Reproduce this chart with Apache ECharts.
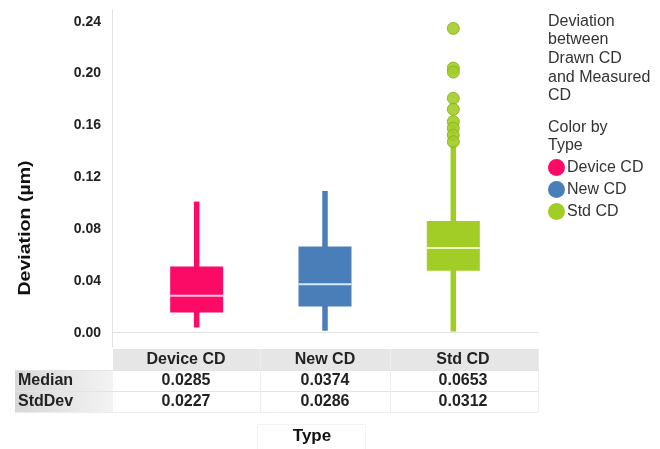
<!DOCTYPE html>
<html>
<head>
<meta charset="utf-8">
<script src="https://cdn.jsdelivr.net/npm/echarts@6/dist/echarts.min.js"></script>
<style>
  html, body { margin: 0; padding: 0; background: #ffffff; }
  #chart { width: 660px; height: 449px; }
</style>
</head>
<body>
<div id="chart"></div>
<script>
// Box-plot statistics per type (µm)
const categories  = ['Device CD', 'New CD', 'Std CD'];
const positions   = [1, 2, 3];
const whiskerLow  = [0.0041, 0.0015, 0.0010];
const quartile1   = [0.0156, 0.0203, 0.0478];
const medians     = [0.0285, 0.0374, 0.0653];
const quartile3   = [0.0511, 0.0665, 0.0863];
const whiskerHigh = [0.1012, 0.1094, 0.1450];
const stdDevs     = [0.0227, 0.0286, 0.0312];
// Outlying points above the Std CD whisker
const stdOutliers = [0.2348, 0.2042, 0.2011, 0.1809, 0.1724, 0.1629, 0.1578, 0.1526, 0.1474];
// Labelled values on the deviation axis
const yTicks = [0, 0.04, 0.08, 0.12, 0.16, 0.20, 0.24];

const boxColors    = ['#fb0a66', '#4a7eb9', '#a2cd27'];
const medianColors = ['#ffc9dd', '#d4eaff', '#f3f9c4'];
const FONT = '"Liberation Sans", Arial, sans-serif';

const chart = echarts.init(document.getElementById('chart'), null, { renderer: 'canvas' });

function renderBox(params, api) {
  const x = api.value(0);
  const lo = api.coord([x, api.value(1)]);
  const q1 = api.coord([x, api.value(2)]);
  const md = api.coord([x, api.value(3)]);
  const q3 = api.coord([x, api.value(4)]);
  const hi = api.coord([x, api.value(5)]);
  const idx = params.seriesIndex;
  const halfBox = 26.5, halfWhisker = 2.75;
  const fill = boxColors[idx];
  return {
    type: 'group',
    children: [
      { type: 'rect', shape: { x: hi[0] - halfWhisker, y: hi[1], width: halfWhisker * 2, height: lo[1] - hi[1] },
        style: { fill: fill } },
      { type: 'rect', shape: { x: q3[0] - halfBox, y: q3[1], width: halfBox * 2, height: q1[1] - q3[1] },
        style: { fill: fill } },
      { type: 'line', shape: { x1: md[0] - halfBox, y1: md[1], x2: md[0] + halfBox, y2: md[1] },
        style: { stroke: medianColors[idx], lineWidth: 2 } }
    ]
  };
}

const boxSeries = categories.map((name, i) => ({
  name: name,
  type: 'custom',
  renderItem: renderBox,
  itemStyle: { color: boxColors[i] },
  encode: { x: 0, y: [1, 2, 3, 4, 5] },
  data: [[positions[i], whiskerLow[i], quartile1[i], medians[i], quartile3[i], whiskerHigh[i]]],
  z: 2
}));

const outlierSeries = {
  name: 'Std CD',
  type: 'scatter',
  symbol: 'circle',
  symbolSize: 12,
  itemStyle: { color: '#a2cd27', borderColor: '#87b31b', borderWidth: 1, opacity: 0.9 },
  data: stdOutliers.map(v => [positions[2], v]),
  z: 3
};

// Summary table under the plot
const colCenters = [186, 325, 463];
const rowY = { header: 359.5, median: 380.5, std: 401.5 };
const tableEls = [
  { type: 'rect', shape: { x: 113, y: 349, width: 425, height: 21 }, style: { fill: '#e6e6e6' }, silent: true },
  { type: 'rect', shape: { x: 15, y: 370, width: 98, height: 42 },
    style: { fill: new echarts.graphic.LinearGradient(0, 0, 1, 0, [
      { offset: 0, color: '#d8d8d8' }, { offset: 1, color: '#f3f3f3' }]) }, silent: true },
  { type: 'line', shape: { x1: 15, y1: 370.5, x2: 538, y2: 370.5 }, style: { stroke: '#e4e4e4', lineWidth: 1 } },
  { type: 'line', shape: { x1: 15, y1: 391.5, x2: 538, y2: 391.5 }, style: { stroke: '#e4e4e4', lineWidth: 1 } },
  { type: 'line', shape: { x1: 15, y1: 412.5, x2: 538, y2: 412.5 }, style: { stroke: '#ececec', lineWidth: 1 } },
  { type: 'line', shape: { x1: 260.5, y1: 349, x2: 260.5, y2: 412 }, style: { stroke: '#ededed', lineWidth: 1 } },
  { type: 'line', shape: { x1: 390.5, y1: 349, x2: 390.5, y2: 412 }, style: { stroke: '#ededed', lineWidth: 1 } },
  { type: 'line', shape: { x1: 538.5, y1: 349, x2: 538.5, y2: 412 }, style: { stroke: '#ededed', lineWidth: 1 } },
  { type: 'text', x: 18, y: rowY.median, style: { text: 'Median', font: 'bold 16px ' + FONT, fill: '#222', textAlign: 'left', textVerticalAlign: 'middle' } },
  { type: 'text', x: 18, y: rowY.std, style: { text: 'StdDev', font: 'bold 16px ' + FONT, fill: '#222', textAlign: 'left', textVerticalAlign: 'middle' } },
  { type: 'rect', shape: { x: 257.5, y: 424.5, width: 108, height: 30 }, style: { fill: 'none', stroke: '#f3f3f3', lineWidth: 1 }, silent: true },
  { type: 'text', x: 312, y: 436, style: { text: 'Type', font: 'bold 17px ' + FONT, fill: '#111', textAlign: 'center', textVerticalAlign: 'middle' } },
  { type: 'text', x: 25, y: 228, rotation: Math.PI / 2, scaleX: 1.15,
    style: { text: 'Deviation (µm)', font: 'bold 17px ' + FONT, fill: '#111', textAlign: 'center', textVerticalAlign: 'middle' } }
];
categories.forEach((name, i) => {
  tableEls.push({ type: 'text', x: colCenters[i], y: rowY.header,
    style: { text: name, font: 'bold 16px ' + FONT, fill: '#222', textAlign: 'center', textVerticalAlign: 'middle' } });
  tableEls.push({ type: 'text', x: colCenters[i], y: rowY.median,
    style: { text: medians[i].toFixed(4), font: 'bold 16px ' + FONT, fill: '#222', textAlign: 'center', textVerticalAlign: 'middle' } });
  tableEls.push({ type: 'text', x: colCenters[i], y: rowY.std,
    style: { text: stdDevs[i].toFixed(4), font: 'bold 16px ' + FONT, fill: '#222', textAlign: 'center', textVerticalAlign: 'middle' } });
});

const option = {
  animation: false,
  backgroundColor: '#ffffff',
  textStyle: { fontFamily: FONT },
  title: [
    { text: 'Deviation\nbetween\nDrawn CD\nand Measured\nCD', left: 543, top: 7,
      textStyle: { fontSize: 16, fontWeight: 'normal', color: '#333', lineHeight: 18.6, fontFamily: FONT } },
    { text: 'Color by\nType', left: 543, top: 113,
      textStyle: { fontSize: 16, fontWeight: 'normal', color: '#333', lineHeight: 18.6, fontFamily: FONT } }
  ],
  legend: {
    orient: 'vertical',
    left: 543,
    top: 154,
    icon: 'circle',
    itemWidth: 17,
    itemHeight: 17,
    itemGap: 5,
    selectedMode: false,
    data: categories,
    textStyle: { fontSize: 16, color: '#333', fontFamily: FONT, padding: [0, 0, 0, -3] }
  },
  grid: { left: 112, right: 122, top: 10, bottom: 102, containLabel: false },
  xAxis: {
    type: 'value',
    min: 0.34,
    max: 3.66,
    axisLine: { show: true, lineStyle: { color: '#e2e2e2', width: 1 } },
    axisTick: { show: false },
    axisLabel: { show: false },
    splitLine: { show: false }
  },
  yAxis: {
    type: 'value',
    min: -0.011,
    max: 0.249,
    interval: 0.001,
    axisLine: { show: true, lineStyle: { color: '#e2e2e2', width: 1 } },
    axisTick: { show: false },
    splitLine: { show: false },
    axisLabel: {
      margin: 11,
      color: '#222',
      fontSize: 14,
      fontWeight: 'bold',
      fontFamily: FONT,
      formatter: function (v) {
        const hit = yTicks.find(t => Math.abs(t - v) < 1e-7);
        return hit === undefined ? '' : hit.toFixed(2);
      }
    }
  },
  graphic: tableEls,
  series: boxSeries.concat([outlierSeries])
};

chart.setOption(option);
</script>
</body>
</html>
